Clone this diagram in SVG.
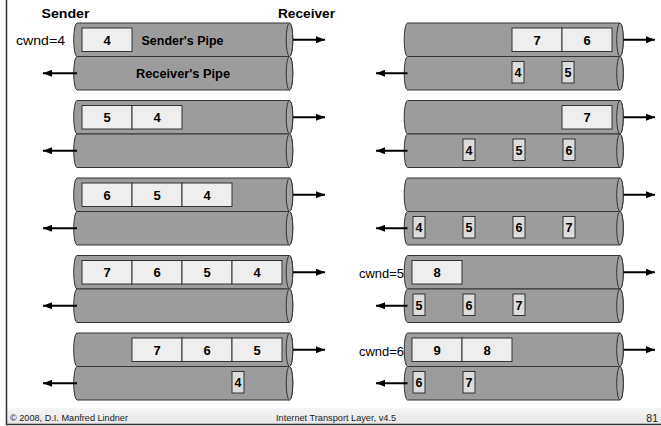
<svg xmlns="http://www.w3.org/2000/svg" xmlns:xlink="http://www.w3.org/1999/xlink" width="661" height="426" viewBox="0 0 661 426">
<style>
text{font-family:"Liberation Sans",Arial,sans-serif;fill:#000}
.pipe{fill:#9c9c9c;stroke:#333;stroke-width:1}
.cap{fill:#a4a4a4;stroke:#333;stroke-width:1}
.seg{fill:#eeeeee;stroke:#333;stroke-width:1}
.ack{fill:#dcdcdc;stroke:#333;stroke-width:1}
.num{font-size:13px;font-weight:bold;text-anchor:middle}
.snum{font-size:12.5px;font-weight:bold;text-anchor:middle}
.head{font-size:13px;font-weight:bold}
.lbl{font-size:12px;font-weight:bold}
.cw{font-size:13.5px}
.foot{font-size:9px;fill:#222}
.arr{stroke:#000;stroke-width:2;fill:none;marker-end:url(#ah)}
</style>
<defs>
<linearGradient id="fg" x1="0" y1="0" x2="0" y2="1"><stop offset="0" stop-color="#f6f6f6"/><stop offset="1" stop-color="#e6e6e6"/></linearGradient>
<marker id="ah" markerUnits="userSpaceOnUse" markerWidth="9" markerHeight="7" refX="9" refY="3.5" orient="auto"><path d="M0,0 L9,3.5 L0,7 Z" fill="#000"/></marker>
<g id="pipe"><path class="pipe" d="M0,0 H212.5 A3.3,16.75 0 0 1 212.5,33.5 H0 A3.3,16.75 0 0 1 0,0 Z"/><ellipse class="cap" cx="212.5" cy="16.75" rx="3.3" ry="16.75"/></g>
</defs>
<rect x="6" y="408" width="655" height="16" fill="url(#fg)"/>
<line x1="6.5" y1="0" x2="6.5" y2="425" stroke="#333" stroke-width="1.5"/>
<line x1="6" y1="424.5" x2="661" y2="424.5" stroke="#333" stroke-width="1.5"/>
<text class="head" x="41.5" y="18" textLength="48" lengthAdjust="spacingAndGlyphs">Sender</text>
<text class="head" x="278" y="18" textLength="57" lengthAdjust="spacingAndGlyphs">Receiver</text>
<text class="foot" x="10" y="421" textLength="118" lengthAdjust="spacingAndGlyphs">© 2008, D.I. Manfred Lindner</text>
<text class="foot" x="276" y="421" textLength="120" lengthAdjust="spacingAndGlyphs">Internet Transport Layer, v4.5</text>
<text x="658" y="421.5" style="font-size:10.5px;text-anchor:end;fill:#222">81</text>

<g id="row1-left">
<use xlink:href="#pipe" x="77" y="23"/><use xlink:href="#pipe" x="77" y="56.5"/>
<rect class="seg" x="82" y="28" width="50" height="23.5"/><text class="num" x="107" y="44.5">4</text>
<text class="lbl" x="141.5" y="44.5" textLength="82" lengthAdjust="spacingAndGlyphs">Sender's Pipe</text>
<text class="lbl" x="136" y="78" textLength="94" lengthAdjust="spacingAndGlyphs">Receiver's Pipe</text>
<text class="cw" x="16" y="45" textLength="49" lengthAdjust="spacingAndGlyphs">cwnd=4</text>
</g>
<g id="row1-right">
<use xlink:href="#pipe" x="407.5" y="23"/><use xlink:href="#pipe" x="407.5" y="56.5"/>
<rect class="seg" x="512" y="28" width="50" height="23.5"/><text class="num" x="537" y="44.5">7</text>
<rect class="seg" x="562" y="28" width="50" height="23.5"/><text class="num" x="587" y="44.5">6</text>
<rect class="ack" x="512" y="61.5" width="12" height="21.5"/><text class="snum" x="518" y="77">4</text>
<rect class="ack" x="562" y="61.5" width="12" height="21.5"/><text class="snum" x="568" y="77">5</text>
</g>

<g id="row2-left">
<use xlink:href="#pipe" x="77" y="100.5"/><use xlink:href="#pipe" x="77" y="134"/>
<rect class="seg" x="82" y="105.5" width="50" height="23.5"/><text class="num" x="107" y="122">5</text>
<rect class="seg" x="132" y="105.5" width="50" height="23.5"/><text class="num" x="157" y="122">4</text>
</g>
<g id="row2-right">
<use xlink:href="#pipe" x="407.5" y="100.5"/><use xlink:href="#pipe" x="407.5" y="134"/>
<rect class="seg" x="562" y="105.5" width="50" height="23.5"/><text class="num" x="587" y="122">7</text>
<rect class="ack" x="463" y="139" width="12" height="21.5"/><text class="snum" x="469" y="154.5">4</text>
<rect class="ack" x="513" y="139" width="12" height="21.5"/><text class="snum" x="519" y="154.5">5</text>
<rect class="ack" x="563" y="139" width="12" height="21.5"/><text class="snum" x="569" y="154.5">6</text>
</g>

<g id="row3-left">
<use xlink:href="#pipe" x="77" y="178"/><use xlink:href="#pipe" x="77" y="211.5"/>
<rect class="seg" x="82" y="183" width="50" height="23.5"/><text class="num" x="107" y="199.5">6</text>
<rect class="seg" x="132" y="183" width="50" height="23.5"/><text class="num" x="157" y="199.5">5</text>
<rect class="seg" x="182" y="183" width="50" height="23.5"/><text class="num" x="207" y="199.5">4</text>
</g>
<g id="row3-right">
<use xlink:href="#pipe" x="407.5" y="178"/><use xlink:href="#pipe" x="407.5" y="211.5"/>
<rect class="ack" x="413" y="216.5" width="12" height="21.5"/><text class="snum" x="419" y="232">4</text>
<rect class="ack" x="463" y="216.5" width="12" height="21.5"/><text class="snum" x="469" y="232">5</text>
<rect class="ack" x="513" y="216.5" width="12" height="21.5"/><text class="snum" x="519" y="232">6</text>
<rect class="ack" x="563" y="216.5" width="12" height="21.5"/><text class="snum" x="569" y="232">7</text>
</g>

<g id="row4-left">
<use xlink:href="#pipe" x="77" y="255.5"/><use xlink:href="#pipe" x="77" y="289"/>
<rect class="seg" x="82" y="260.5" width="50" height="23.5"/><text class="num" x="107" y="277">7</text>
<rect class="seg" x="132" y="260.5" width="50" height="23.5"/><text class="num" x="157" y="277">6</text>
<rect class="seg" x="182" y="260.5" width="50" height="23.5"/><text class="num" x="207" y="277">5</text>
<rect class="seg" x="232" y="260.5" width="50" height="23.5"/><text class="num" x="257" y="277">4</text>
</g>
<g id="row4-right">
<use xlink:href="#pipe" x="407.5" y="255.5"/><use xlink:href="#pipe" x="407.5" y="289"/>
<text class="cw" x="359" y="278" textLength="45" lengthAdjust="spacingAndGlyphs">cwnd=5</text>
<rect class="seg" x="412" y="260.5" width="50" height="23.5"/><text class="num" x="437" y="277">8</text>
<rect class="ack" x="413" y="294" width="12" height="21.5"/><text class="snum" x="419" y="309.5">5</text>
<rect class="ack" x="463" y="294" width="12" height="21.5"/><text class="snum" x="469" y="309.5">6</text>
<rect class="ack" x="513" y="294" width="12" height="21.5"/><text class="snum" x="519" y="309.5">7</text>
</g>

<g id="row5-left">
<use xlink:href="#pipe" x="77" y="333"/><use xlink:href="#pipe" x="77" y="366.5"/>
<rect class="seg" x="132" y="338" width="50" height="23.5"/><text class="num" x="157" y="354.5">7</text>
<rect class="seg" x="182" y="338" width="50" height="23.5"/><text class="num" x="207" y="354.5">6</text>
<rect class="seg" x="232" y="338" width="50" height="23.5"/><text class="num" x="257" y="354.5">5</text>
<rect class="ack" x="232" y="371.5" width="12" height="21.5"/><text class="snum" x="238" y="387">4</text>
</g>
<g id="row5-right">
<use xlink:href="#pipe" x="407.5" y="333"/><use xlink:href="#pipe" x="407.5" y="366.5"/>
<text class="cw" x="359" y="355.5" textLength="45" lengthAdjust="spacingAndGlyphs">cwnd=6</text>
<rect class="seg" x="412" y="338" width="50" height="23.5"/><text class="num" x="437" y="354.5">9</text>
<rect class="seg" x="462" y="338" width="50" height="23.5"/><text class="num" x="487" y="354.5">8</text>
<rect class="ack" x="413" y="371.5" width="12" height="21.5"/><text class="snum" x="419" y="387">6</text>
<rect class="ack" x="463" y="371.5" width="12" height="21.5"/><text class="snum" x="469" y="387">7</text>
</g>

<g id="connectors">
<line class="arr" x1="293" y1="39.75" x2="325" y2="39.75"/>
<line class="arr" x1="77" y1="73.25" x2="43" y2="73.25"/>
<line class="arr" x1="623.5" y1="39.75" x2="655" y2="39.75"/>
<line class="arr" x1="407.5" y1="73.25" x2="376" y2="73.25"/>
<line class="arr" x1="293" y1="117.25" x2="325" y2="117.25"/>
<line class="arr" x1="77" y1="150.75" x2="43" y2="150.75"/>
<line class="arr" x1="623.5" y1="117.25" x2="655" y2="117.25"/>
<line class="arr" x1="407.5" y1="150.75" x2="376" y2="150.75"/>
<line class="arr" x1="293" y1="194.75" x2="325" y2="194.75"/>
<line class="arr" x1="77" y1="228.25" x2="43" y2="228.25"/>
<line class="arr" x1="623.5" y1="194.75" x2="655" y2="194.75"/>
<line class="arr" x1="407.5" y1="228.25" x2="376" y2="228.25"/>
<line class="arr" x1="293" y1="272.25" x2="325" y2="272.25"/>
<line class="arr" x1="77" y1="305.75" x2="43" y2="305.75"/>
<line class="arr" x1="623.5" y1="272.25" x2="655" y2="272.25"/>
<line class="arr" x1="407.5" y1="305.75" x2="376" y2="305.75"/>
<line class="arr" x1="293" y1="349.75" x2="325" y2="349.75"/>
<line class="arr" x1="77" y1="383.25" x2="43" y2="383.25"/>
<line class="arr" x1="623.5" y1="349.75" x2="655" y2="349.75"/>
<line class="arr" x1="407.5" y1="383.25" x2="376" y2="383.25"/>
</g>
</svg>
